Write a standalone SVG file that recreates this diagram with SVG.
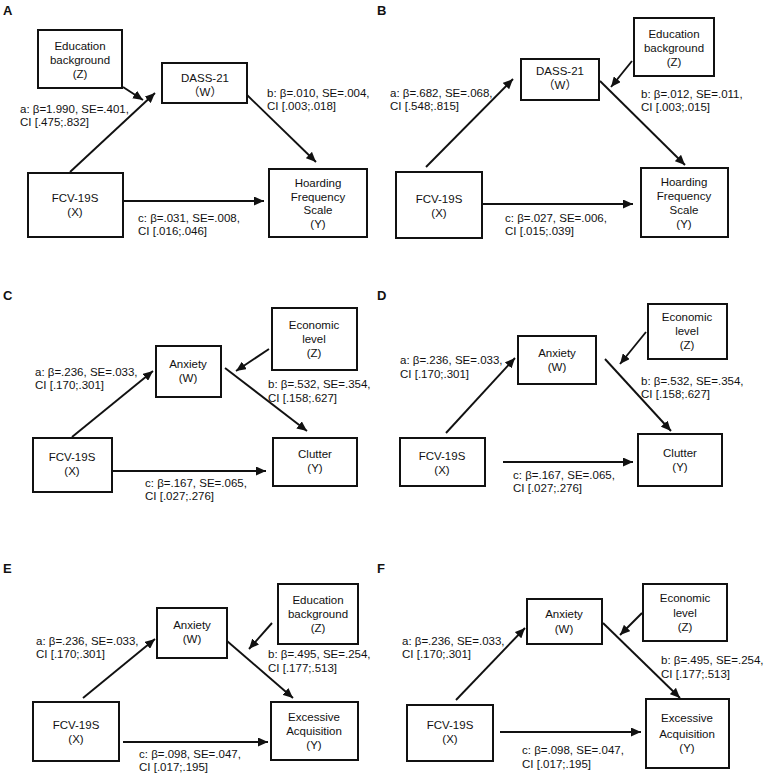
<svg xmlns="http://www.w3.org/2000/svg" width="767" height="775" viewBox="0 0 767 775">
<style>
text{font-family:"Liberation Sans",Arial,"Noto Sans CJK SC",sans-serif;font-size:11.5px;fill:#111}
.n rect{fill:#fff;stroke:#111;stroke-width:2}
.n text{text-anchor:middle}
.pl{font-size:13px;font-weight:bold}
.e line{stroke:#111;stroke-width:1.9;marker-end:url(#ah)}
</style>
<defs>
<marker id="ah" markerUnits="userSpaceOnUse" markerWidth="11" markerHeight="9" refX="10" refY="4.5" orient="auto">
<path d="M0,0 L10,4.5 L0,9 z" fill="#111"/>
</marker>
</defs>
<rect width="767" height="775" fill="#fff"/>
<g id="panel-labels">
<text class="pl" x="3" y="15">A</text>
<text class="pl" x="377" y="15">B</text>
<text class="pl" x="3" y="300">C</text>
<text class="pl" x="377" y="300">D</text>
<text class="pl" x="3" y="573">E</text>
<text class="pl" x="377" y="573">F</text>
</g>
<g id="connectors" class="e">
<!-- A -->
<line x1="70" y1="172" x2="155" y2="93"/>
<line x1="123" y1="87" x2="143" y2="100"/>
<line x1="246" y1="94" x2="316" y2="162"/>
<line x1="123" y1="201" x2="264" y2="201"/>
<!-- B -->
<line x1="426" y1="167" x2="513" y2="79"/>
<line x1="632" y1="61" x2="611" y2="87"/>
<line x1="600" y1="81" x2="685" y2="165"/>
<line x1="483" y1="204" x2="633" y2="204"/>
<!-- C -->
<line x1="72" y1="437" x2="153" y2="371"/>
<line x1="269" y1="349" x2="236" y2="371"/>
<line x1="225" y1="368" x2="307" y2="431"/>
<line x1="112" y1="471" x2="266" y2="471"/>
<!-- D -->
<line x1="446" y1="433" x2="515" y2="358"/>
<line x1="646" y1="332" x2="620" y2="364"/>
<line x1="605" y1="359" x2="671" y2="431"/>
<line x1="503" y1="462" x2="633" y2="462"/>
<!-- E -->
<line x1="83" y1="698" x2="155" y2="639"/>
<line x1="272" y1="623" x2="249" y2="649"/>
<line x1="227" y1="641" x2="293" y2="698"/>
<line x1="123" y1="742" x2="268" y2="742"/>
<!-- F -->
<line x1="456" y1="700" x2="525" y2="628"/>
<line x1="642" y1="613" x2="620" y2="635"/>
<line x1="603" y1="623" x2="680" y2="698"/>
<line x1="500" y1="732" x2="641" y2="732"/>
</g>
<g id="edge-labels">
<text x="20" y="113">a: β=1.990, SE=.401,</text>
<text x="20" y="126">CI [.475;.832]</text>
<text x="267" y="97">b: β=.010, SE=.004,</text>
<text x="267" y="110">CI [.003;.018]</text>
<text x="138" y="222">c: β=.031, SE=.008,</text>
<text x="138" y="235">CI [.016;.046]</text>

<text x="390" y="97">a: β=.682, SE=.068,</text>
<text x="390" y="110">CI [.548;.815]</text>
<text x="641" y="98">b: β=.012, SE=.011,</text>
<text x="641" y="111">CI [.003;.015]</text>
<text x="505" y="222">c: β=.027, SE=.006,</text>
<text x="505" y="235">CI [.015;.039]</text>

<text x="35" y="376">a: β=.236, SE=.033,</text>
<text x="35" y="389">CI [.170;.301]</text>
<text x="268" y="388">b: β=.532, SE=.354,</text>
<text x="268" y="402">CI [.158;.627]</text>
<text x="145" y="487">c: β=.167, SE=.065,</text>
<text x="145" y="500">CI [.027;.276]</text>

<text x="400" y="364">a: β=.236, SE=.033,</text>
<text x="400" y="378">CI [.170;.301]</text>
<text x="641" y="385">b: β=.532, SE=.354,</text>
<text x="641" y="398">CI [.158;.627]</text>
<text x="513" y="479">c: β=.167, SE=.065,</text>
<text x="513" y="492">CI [.027;.276]</text>

<text x="36" y="645">a: β=.236, SE=.033,</text>
<text x="36" y="658">CI [.170;.301]</text>
<text x="268" y="658">b: β=.495, SE=.254,</text>
<text x="268" y="672">CI [.177;.513]</text>
<text x="139" y="758">c: β=.098, SE=.047,</text>
<text x="139" y="771">CI [.017;.195]</text>

<text x="402" y="645">a: β=.236, SE=.033,</text>
<text x="402" y="658">CI [.170;.301]</text>
<text x="661" y="664">b: β=.495, SE=.254,</text>
<text x="661" y="678">CI [.177;.513]</text>
<text x="522" y="754">c: β=.098, SE=.047,</text>
<text x="522" y="768">CI [.017;.195]</text>
</g>
<!-- Panel A nodes -->
<g id="A-Z" class="n"><rect x="38" y="30" width="84" height="58"/><text x="80" y="50">Education</text><text x="80" y="64">background</text><text x="80" y="78">(Z)</text></g>
<g id="A-W" class="n"><rect x="162" y="63" width="85" height="40"/><text x="205" y="82">DASS-21</text><text x="205" y="96">（W）</text></g>
<g id="A-X" class="n"><rect x="28" y="173" width="95" height="64"/><text x="75" y="202">FCV-19S</text><text x="75" y="216">(X)</text></g>
<g id="A-Y" class="n"><rect x="269" y="169" width="98" height="68"/><text x="318" y="187">Hoarding</text><text x="318" y="201">Frequency</text><text x="318" y="214">Scale</text><text x="318" y="228">(Y)</text></g>
<!-- Panel B nodes -->
<g id="B-Z" class="n"><rect x="634" y="18" width="80" height="58"/><text x="674" y="38">Education</text><text x="674" y="52">background</text><text x="674" y="66">(Z)</text></g>
<g id="B-W" class="n"><rect x="521" y="59" width="78" height="41"/><text x="560" y="75">DASS-21</text><text x="560" y="89">（W）</text></g>
<g id="B-X" class="n"><rect x="396" y="172" width="86" height="66"/><text x="439" y="203">FCV-19S</text><text x="439" y="217">(X)</text></g>
<g id="B-Y" class="n"><rect x="641" y="168" width="87" height="69"/><text x="684" y="186">Hoarding</text><text x="684" y="200">Frequency</text><text x="684" y="214">Scale</text><text x="684" y="228">(Y)</text></g>
<!-- Panel C nodes -->
<g id="C-Z" class="n"><rect x="272" y="308" width="85" height="62"/><text x="314" y="329">Economic</text><text x="314" y="343">level</text><text x="314" y="357">(Z)</text></g>
<g id="C-W" class="n"><rect x="156" y="346" width="65" height="51"/><text x="188" y="368">Anxiety</text><text x="188" y="382">(W)</text></g>
<g id="C-X" class="n"><rect x="33" y="438" width="79" height="54"/><text x="72" y="461">FCV-19S</text><text x="72" y="475">(X)</text></g>
<g id="C-Y" class="n"><rect x="273" y="438" width="84" height="48"/><text x="315" y="458">Clutter</text><text x="315" y="472">(Y)</text></g>
<!-- Panel D nodes -->
<g id="D-Z" class="n"><rect x="648" y="304" width="79" height="55"/><text x="687" y="321">Economic</text><text x="687" y="335">level</text><text x="687" y="349">(Z)</text></g>
<g id="D-W" class="n"><rect x="518" y="336" width="78" height="48"/><text x="557" y="357">Anxiety</text><text x="557" y="371">(W)</text></g>
<g id="D-X" class="n"><rect x="400" y="438" width="85" height="48"/><text x="442" y="460">FCV-19S</text><text x="442" y="474">(X)</text></g>
<g id="D-Y" class="n"><rect x="638" y="434" width="84" height="52"/><text x="680" y="457">Clutter</text><text x="680" y="471">(Y)</text></g>
<!-- Panel E nodes -->
<g id="E-Z" class="n"><rect x="278" y="584" width="80" height="60"/><text x="318" y="604">Education</text><text x="318" y="618">background</text><text x="318" y="632">(Z)</text></g>
<g id="E-W" class="n"><rect x="157" y="608" width="70" height="50"/><text x="192" y="629">Anxiety</text><text x="192" y="643">(W)</text></g>
<g id="E-X" class="n"><rect x="33" y="702" width="86" height="59"/><text x="76" y="729">FCV-19S</text><text x="76" y="743">(X)</text></g>
<g id="E-Y" class="n"><rect x="271" y="702" width="87" height="58"/><text x="314" y="721">Excessive</text><text x="314" y="735">Acquisition</text><text x="314" y="749">(Y)</text></g>
<!-- Panel F nodes -->
<g id="F-Z" class="n"><rect x="643" y="584" width="84" height="57"/><text x="685" y="602">Economic</text><text x="685" y="617">level</text><text x="685" y="631">(Z)</text></g>
<g id="F-W" class="n"><rect x="527" y="599" width="75" height="45"/><text x="564" y="618">Anxiety</text><text x="564" y="633">(W)</text></g>
<g id="F-X" class="n"><rect x="407" y="705" width="86" height="56"/><text x="450" y="729">FCV-19S</text><text x="450" y="743">(X)</text></g>
<g id="F-Y" class="n"><rect x="646" y="699" width="83" height="69"/><text x="687" y="722">Excessive</text><text x="687" y="738">Acquisition</text><text x="687" y="752">(Y)</text></g>
</svg>
